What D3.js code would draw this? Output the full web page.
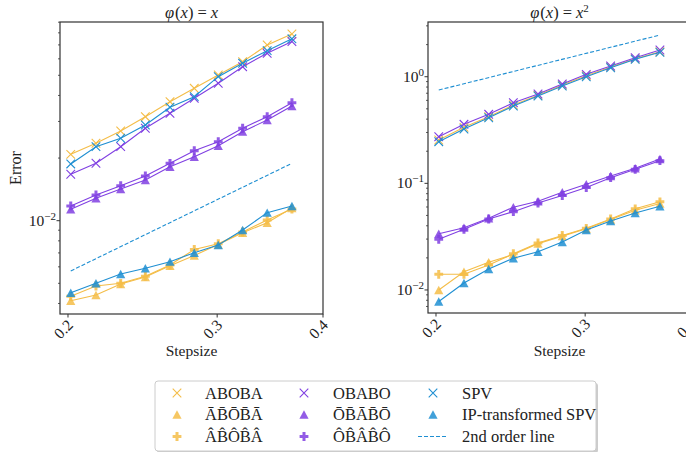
<!DOCTYPE html>
<html>
<head>
<meta charset="utf-8">
<script src="https://cdn.jsdelivr.net/npm/d3@7"></script>
<style>
body { margin: 0; background: #fff; }
</style>
</head>
<body>
<svg id="chart" width="686" height="452"></svg>
<script>
const stepsizes = [0.2015, 0.2158, 0.2308, 0.2468, 0.2639, 0.2819, 0.3009, 0.3215, 0.3437, 0.3676];
const xTicks = [0.2, 0.3, 0.4];

const names = ["ABOBA", "A\u0304B\u0304O\u0304B\u0304A\u0304", "A\u0302B\u0302O\u0302B\u0302A\u0302",
    "OBABO", "O\u0304B\u0304A\u0304B\u0304O\u0304", "O\u0302B\u0302A\u0302B\u0302O\u0302",
    "SPV", "IP-transformed SPV", "2nd order line"];
const colors = ["#f4bd48", "#f4bd48", "#f4bd48", "#8040e2", "#8040e2", "#8040e2", "#1f8fd2", "#1f8fd2", "#1f8fd2"];
const markers = ["x", "tri", "plus", "x", "tri", "plus", "x", "tri", "line"];

// phi(x) = x
const linABOBA = [0.02084, 0.02356, 0.02698, 0.03162, 0.03733, 0.04330, 0.05018, 0.05812, 0.06994, 0.0790];
const linABOBAbar = [0.004124, 0.004393, 0.004962, 0.005360, 0.006077, 0.006803, 0.007683, 0.008756, 0.009781, 0.01151];
const linABOBAhat = [0.004330, 0.004853, 0.005000, 0.005402, 0.006124, 0.007272, 0.007750, 0.008825, 0.01008, 0.01138];
const linOBABO = [0.01672, 0.01888, 0.02269, 0.02782, 0.03283, 0.03877, 0.04578, 0.05500, 0.06379, 0.07270];
const linOBABObar = [0.01135, 0.01281, 0.01420, 0.01569, 0.01818, 0.02031, 0.02294, 0.02679, 0.03049, 0.03560];
const linOBABOhat = [0.01177, 0.01329, 0.01473, 0.01640, 0.01888, 0.02171, 0.02398, 0.02782, 0.03162, 0.03692];
const linSPV = [0.01874, 0.02269, 0.02490, 0.02885, 0.03510, 0.03947, 0.04925, 0.05711, 0.06568, 0.07490];
const linIPSPV = [0.004506, 0.005000, 0.005541, 0.005903, 0.006354, 0.007018, 0.007641, 0.009022, 0.01093, 0.01177];
const linRef = [0.005731, 0.01888];

// phi(x) = x^2
const sqABOBA = [0.2550, 0.3353, 0.4215, 0.5429, 0.6693, 0.8358, 1.022, 1.233, 1.475, 1.716];
const sqABOBAbar = [0.01000, 0.01484, 0.01823, 0.02150, 0.02720, 0.03200, 0.03750, 0.04580, 0.05590, 0.06473];
const sqABOBAhat = [0.01403, 0.01403, 0.01716, 0.02185, 0.02759, 0.03243, 0.03789, 0.04630, 0.05773, 0.06714];
const sqOBABO = [0.2738, 0.3579, 0.4441, 0.5705, 0.6883, 0.8542, 1.053, 1.260, 1.507, 1.780];
const sqOBABObar = [0.03372, 0.03839, 0.04701, 0.05976, 0.06802, 0.08260, 0.09818, 0.1172, 0.1384, 0.1692];
const sqOBABOhat = [0.02988, 0.03708, 0.04630, 0.05423, 0.06541, 0.07690, 0.09144, 0.1130, 0.1354, 0.1631];
const sqSPV = [0.2458, 0.3233, 0.4125, 0.5313, 0.6592, 0.8180, 1.000, 1.214, 1.456, 1.693];
const sqIPSPV = [0.007804, 0.01163, 0.01573, 0.01983, 0.02285, 0.02818, 0.03652, 0.04436, 0.05272, 0.06091];
const sqRef = [0.7504, 2.460];

const FONT = "'Liberation Serif'";
const svg = d3.select("#chart");

function label(g, size) {
    return g.append("text")
        .style("font-family", FONT)
        .style("font-size", size + "px")
        .attr("fill", "#222");
}

function markerPath(type) {
    if (type === "x") return "M-4.3,-4.3L4.3,4.3M-4.3,4.3L4.3,-4.3";
    if (type === "tri") return "M0,-4.2L4.6,4.2L-4.6,4.2Z";
    if (type === "plus") return "M-1.5,-4.4H1.5V-1.5H4.4V1.5H1.5V4.4H-1.5V1.5H-4.4V-1.5H-1.5Z";
    return "";
}

function drawMarker(g, type, color, cx, cy) {
    const p = g.append("path")
        .attr("d", markerPath(type))
        .attr("transform", `translate(${cx},${cy})`);
    if (type === "x") {
        p.attr("fill", "none").attr("stroke", color).attr("stroke-width", 1.1);
    } else {
        p.attr("fill", color).attr("fill-opacity", 0.85).attr("stroke", "none");
    }
}

function superLabel(g, x, y, exp) {
    const t = label(g, 15.5)
        .attr("x", x)
        .attr("y", y)
        .attr("text-anchor", "end");
    t.append("tspan").text("10");
    t.append("tspan").attr("dy", -6).style("font-size", "11px").text(exp);
}

function drawPanel(opts) {
    const g = svg.append("g");
    const x = d3.scaleLog().domain([0.1957, 0.4]).range([opts.left, opts.left + 263]);
    const y = d3.scaleLog().domain(opts.yDomain).range([opts.bottom, 22]);

    const clip = "clip" + opts.id;
    g.append("clipPath").attr("id", clip)
        .append("rect").attr("x", opts.left).attr("y", 22)
        .attr("width", 263).attr("height", opts.bottom - 22);

    const plot = g.append("g").attr("clip-path", `url(#${clip})`);
    const line = d3.line()
        .x((d, i) => x(stepsizes[i]))
        .y(d => y(d));

    opts.series.forEach((values, k) => {
        plot.append("path")
            .datum(values)
            .attr("fill", "none")
            .attr("stroke", colors[k])
            .attr("stroke-width", 1.1)
            .attr("d", line);
        values.forEach((v, i) => drawMarker(plot, markers[k], colors[k], x(stepsizes[i]), y(v)));
    });

    // 2nd order reference line
    plot.append("path")
        .datum([[stepsizes[0], opts.ref[0]], [stepsizes[9], opts.ref[1]]])
        .attr("fill", "none")
        .attr("stroke", colors[8])
        .attr("stroke-width", 1.1)
        .attr("stroke-dasharray", "4,2")
        .attr("d", d3.line().x(d => x(d[0])).y(d => y(d[1])));

    // frame
    g.append("rect")
        .attr("x", opts.left).attr("y", 22)
        .attr("width", 263).attr("height", opts.bottom - 22)
        .attr("fill", "none").attr("stroke", "#333").attr("stroke-width", 1.2);

    // y ticks
    const yMin = opts.yDomain[0], yMax = opts.yDomain[1];
    for (let e = -3; e <= 1; e++) {
        for (let m = 1; m <= 9; m++) {
            const v = m * Math.pow(10, e);
            if (v < yMin || v > yMax) continue;
            const len = m === 1 ? 3.5 : 2;
            g.append("line")
                .attr("x1", opts.left).attr("x2", opts.left - len)
                .attr("y1", y(v)).attr("y2", y(v))
                .attr("stroke", "#333").attr("stroke-width", m === 1 ? 1 : 0.8);
            if (m === 1) superLabel(g, opts.left - 4, y(v) + 5, e === 0 ? "0" : "\u2212" + (-e));
        }
    }

    // x ticks
    xTicks.forEach(t => {
        g.append("line")
            .attr("x1", x(t)).attr("x2", x(t))
            .attr("y1", opts.bottom).attr("y2", opts.bottom + 3.5)
            .attr("stroke", "#333").attr("stroke-width", 1);
        label(g, 15.5)
            .attr("transform", `translate(${x(t) + 6},${opts.bottom + 12}) rotate(-45)`)
            .attr("text-anchor", "end")
            .text(t.toFixed(1));
    });

    label(g, 15.5)
        .attr("x", opts.left + 131.5)
        .attr("y", 356)
        .attr("text-anchor", "middle")
        .text("Stepsize");

    const title = label(g, 16.5)
        .attr("x", opts.left + 131.5)
        .attr("y", 18)
        .attr("text-anchor", "middle");
    title.append("tspan").style("font-style", "italic").text("\u03c6");
    title.append("tspan").attr("dx", 1).text("(");
    title.append("tspan").style("font-style", "italic").text("x");
    title.append("tspan").text(")");
    title.append("tspan").attr("dx", 4).text("=");
    title.append("tspan").attr("dx", 4).style("font-style", "italic").text("x");
    if (opts.squared) title.append("tspan").attr("dy", -6.5).style("font-size", "11px").text("2");
}

drawPanel({
    id: "a", left: 60, bottom: 314, yDomain: [0.00356, 0.0902],
    series: [linABOBA, linABOBAbar, linABOBAhat, linOBABO, linOBABObar, linOBABOhat, linSPV, linIPSPV],
    ref: linRef, squared: false
});
drawPanel({
    id: "b", left: 428, bottom: 313, yDomain: [0.00608, 3.26],
    series: [sqABOBA, sqABOBAbar, sqABOBAhat, sqOBABO, sqOBABObar, sqOBABOhat, sqSPV, sqIPSPV],
    ref: sqRef, squared: true
});

label(svg, 16)
    .attr("transform", "translate(21,168) rotate(-90)")
    .attr("text-anchor", "middle")
    .text("Error");

// legend
const legend = svg.append("g");
legend.append("rect")
    .attr("x", 157).attr("y", 383).attr("width", 441).attr("height", 70)
    .attr("rx", 3).attr("fill", "#999").attr("opacity", 0.5);
legend.append("rect")
    .attr("x", 155).attr("y", 381).attr("width", 441).attr("height", 70)
    .attr("rx", 3).attr("fill", "#fff").attr("stroke", "#ccc").attr("stroke-width", 1);

const colMarkerX = [177, 304, 433];
const colTextX = [205, 333, 462];
const rowY = [393, 414.5, 436.5];
names.forEach((name, k) => {
    const c = Math.floor(k / 3), r = k % 3;
    if (markers[k] === "line") {
        legend.append("line")
            .attr("x1", colMarkerX[c] - 15).attr("x2", colMarkerX[c] + 14)
            .attr("y1", rowY[r]).attr("y2", rowY[r])
            .attr("stroke", colors[k]).attr("stroke-width", 1.1)
            .attr("stroke-dasharray", "4,2");
    } else {
        drawMarker(legend, markers[k], colors[k], colMarkerX[c], rowY[r]);
    }
    label(legend, 16.5)
        .attr("x", colTextX[c])
        .attr("y", rowY[r] + 5.5)
        .text(name);
});
</script>
</body>
</html>
